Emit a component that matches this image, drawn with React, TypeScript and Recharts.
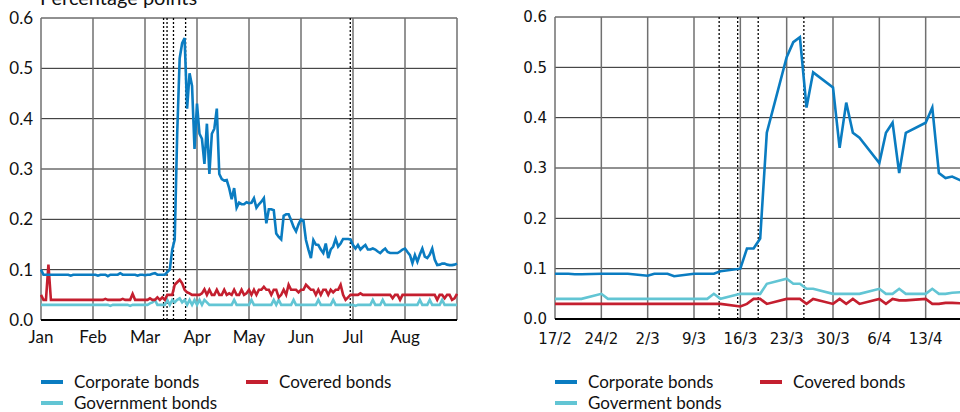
import React from 'react';
import { LineChart, Line, XAxis, YAxis, CartesianGrid, ReferenceLine } from 'recharts';

// left panel: business days, 21 per month, Jan to end of Aug
const monthLabels = ['Jan', 'Feb', 'Mar', 'Apr', 'May', 'Jun', 'Jul', 'Aug', ''];
const leftTicks = [0, 21, 42, 63, 84, 105, 126, 147, 168];
const yTicks = [0, 0.1, 0.2, 0.3, 0.4, 0.5, 0.6];

const corporateLeft = [
  0.10, 0.09, 0.09, 0.09, 0.09, 0.09, 0.09, 0.09, 0.09, 0.09, 0.09, 0.09, 0.088, 0.09, 0.09, 0.09, 0.09, 0.09, 0.09, 0.09, 0.09,
  0.09, 0.09, 0.088, 0.09, 0.09, 0.09, 0.087, 0.09, 0.09, 0.09, 0.09, 0.093, 0.09, 0.09, 0.09, 0.09, 0.09, 0.09, 0.088, 0.09, 0.09,
  0.089, 0.09, 0.09, 0.092, 0.093, 0.09, 0.09, 0.09, 0.09, 0.095, 0.10, 0.14, 0.16, 0.37, 0.52, 0.55, 0.56, 0.42, 0.49, 0.465, 0.34,
  0.43, 0.37, 0.36, 0.31, 0.39, 0.29, 0.37, 0.38, 0.42, 0.29, 0.28, 0.277, 0.278, 0.262, 0.24, 0.262, 0.223, 0.233, 0.23, 0.23, 0.234,
  0.232, 0.233, 0.242, 0.223, 0.23, 0.235, 0.242, 0.192, 0.22, 0.22, 0.218, 0.172, 0.165, 0.16, 0.207, 0.21, 0.21, 0.198, 0.185, 0.176, 0.19,
  0.2, 0.197, 0.159, 0.14, 0.123, 0.159, 0.15, 0.149, 0.14, 0.133, 0.152, 0.123, 0.14, 0.146, 0.161, 0.146, 0.152, 0.161, 0.161, 0.161, 0.16,
  0.149, 0.142, 0.149, 0.14, 0.145, 0.149, 0.14, 0.14, 0.142, 0.14, 0.136, 0.133, 0.138, 0.142, 0.135, 0.133, 0.133, 0.133, 0.133, 0.136, 0.14,
  0.142, 0.135, 0.129, 0.113, 0.129, 0.116, 0.13, 0.142, 0.126, 0.123, 0.13, 0.142, 0.12, 0.109, 0.11, 0.112, 0.112, 0.11, 0.109, 0.109, 0.11,
  0.112,
];
const coveredLeft = [
  0.05, 0.04, 0.04, 0.11, 0.04, 0.04, 0.04, 0.04, 0.04, 0.04, 0.04, 0.04, 0.04, 0.04, 0.04, 0.04, 0.04, 0.04, 0.04, 0.04, 0.04,
  0.04, 0.04, 0.04, 0.04, 0.04, 0.042, 0.04, 0.04, 0.04, 0.04, 0.04, 0.04, 0.042, 0.04, 0.04, 0.04, 0.052, 0.04, 0.04, 0.04, 0.04,
  0.04, 0.04, 0.043, 0.04, 0.04, 0.045, 0.04, 0.045, 0.04, 0.05, 0.05, 0.05, 0.07, 0.075, 0.08, 0.073, 0.06, 0.055, 0.053, 0.05, 0.05,
  0.05, 0.05, 0.053, 0.061, 0.05, 0.06, 0.05, 0.05, 0.06, 0.05, 0.05, 0.06, 0.05, 0.053, 0.05, 0.06, 0.05, 0.05, 0.06, 0.05, 0.053,
  0.06, 0.05, 0.06, 0.05, 0.06, 0.06, 0.066, 0.06, 0.06, 0.05, 0.06, 0.06, 0.045, 0.05, 0.06, 0.05, 0.07, 0.06, 0.06, 0.06, 0.055,
  0.06, 0.06, 0.07, 0.065, 0.06, 0.06, 0.05, 0.06, 0.05, 0.06, 0.06, 0.05, 0.06, 0.055, 0.06, 0.06, 0.07, 0.05, 0.04, 0.045, 0.05,
  0.05, 0.05, 0.05, 0.053, 0.05, 0.05, 0.05, 0.05, 0.05, 0.05, 0.05, 0.05, 0.05, 0.05, 0.05, 0.05, 0.043, 0.05, 0.05, 0.04, 0.05,
  0.05, 0.05, 0.05, 0.05, 0.05, 0.05, 0.05, 0.05, 0.05, 0.05, 0.05, 0.05, 0.05, 0.04, 0.05, 0.05, 0.043, 0.05, 0.05, 0.04, 0.043,
  0.052,
];
const governmentLeft = [
  0.03, 0.03, 0.03, 0.03, 0.03, 0.03, 0.03, 0.03, 0.03, 0.03, 0.03, 0.03, 0.03, 0.03, 0.03, 0.03, 0.03, 0.03, 0.03, 0.03, 0.03,
  0.03, 0.03, 0.03, 0.03, 0.03, 0.03, 0.03, 0.028, 0.03, 0.03, 0.03, 0.03, 0.03, 0.03, 0.03, 0.028, 0.03, 0.03, 0.03, 0.03, 0.03,
  0.03, 0.03, 0.033, 0.035, 0.04, 0.03, 0.03, 0.03, 0.03, 0.04, 0.03, 0.04, 0.035, 0.04, 0.043, 0.035, 0.04, 0.03, 0.04, 0.03, 0.04,
  0.03, 0.04, 0.03, 0.04, 0.035, 0.03, 0.03, 0.03, 0.03, 0.03, 0.03, 0.03, 0.03, 0.03, 0.03, 0.04, 0.03, 0.03, 0.03, 0.03, 0.03,
  0.03, 0.04, 0.03, 0.03, 0.03, 0.03, 0.03, 0.03, 0.03, 0.03, 0.04, 0.03, 0.04, 0.03, 0.03, 0.03, 0.03, 0.03, 0.04, 0.03, 0.03,
  0.03, 0.03, 0.03, 0.03, 0.03, 0.03, 0.03, 0.04, 0.03, 0.03, 0.03, 0.03, 0.03, 0.04, 0.03, 0.03, 0.03, 0.03, 0.03, 0.03, 0.03,
  0.03, 0.028, 0.03, 0.03, 0.03, 0.03, 0.03, 0.03, 0.04, 0.03, 0.03, 0.03, 0.04, 0.03, 0.03, 0.03, 0.03, 0.03, 0.03, 0.03, 0.03,
  0.03, 0.03, 0.03, 0.03, 0.03, 0.03, 0.04, 0.03, 0.03, 0.03, 0.04, 0.03, 0.03, 0.03, 0.03, 0.04, 0.03, 0.03, 0.03, 0.03, 0.03,
  0.03,
];
const leftEvents = [49.5, 50.9, 53.5, 58.4, 124.9];

// right panel: calendar days counted from 17/2
const rightDays = [0, 1, 2, 3, 4, 7, 8, 9, 10, 11, 14, 15, 16, 17, 18, 21, 22, 23, 24, 25, 28, 29, 30, 31, 32, 35, 36, 37, 38, 39, 42, 43, 44, 45, 46, 49, 50, 51, 52, 53, 56, 57, 58, 59, 60, 63];
const corporateRight = [
  0.09, 0.09, 0.09, 0.089, 0.089, 0.09, 0.09, 0.09, 0.09, 0.09, 0.086, 0.09, 0.09, 0.09, 0.085, 0.09, 0.09, 0.09, 0.09, 0.095,
  0.10, 0.14, 0.14, 0.16, 0.37, 0.52, 0.55, 0.56, 0.42, 0.49, 0.46, 0.34, 0.43, 0.37, 0.36, 0.31, 0.37, 0.39, 0.29, 0.37,
  0.39, 0.42, 0.29, 0.28, 0.283, 0.265,
];
const coveredRight = [
  0.03, 0.03, 0.03, 0.03, 0.03, 0.03, 0.03, 0.03, 0.03, 0.03, 0.03, 0.03, 0.03, 0.03, 0.03, 0.03, 0.03, 0.03, 0.03, 0.03,
  0.025, 0.03, 0.04, 0.04, 0.03, 0.04, 0.04, 0.04, 0.03, 0.04, 0.03, 0.04, 0.03, 0.04, 0.03, 0.04, 0.03, 0.04, 0.037, 0.037,
  0.04, 0.03, 0.03, 0.032, 0.032, 0.03,
];
const governmentRight = [
  0.04, 0.04, 0.04, 0.04, 0.04, 0.05, 0.04, 0.04, 0.04, 0.04, 0.04, 0.04, 0.04, 0.04, 0.04, 0.04, 0.04, 0.04, 0.05, 0.04,
  0.05, 0.05, 0.05, 0.05, 0.07, 0.08, 0.07, 0.07, 0.06, 0.06, 0.05, 0.05, 0.05, 0.05, 0.05, 0.06, 0.05, 0.05, 0.06, 0.05,
  0.05, 0.06, 0.05, 0.05, 0.052, 0.055,
];
const weekLabels = ['17/2', '24/2', '2/3', '9/3', '16/3', '23/3', '30/3', '6/4', '13/4', ''];
const rightTicks = [0, 7, 14, 21, 28, 35, 42, 49, 56, 63];
const rightEvents = [24.8, 27.6, 30.7, 37.6];

const BLUE = '#0a7cc1';
const RED = '#c41f2f';
const CYAN = '#62c5d4';

const leftData = corporateLeft.map((v, i) => ({
  x: i, corporate: v, covered: coveredLeft[i], government: governmentLeft[i],
}));
const rightData = rightDays.map((d, i) => ({
  x: d, corporate: corporateRight[i], covered: coveredRight[i], government: governmentRight[i],
}));

const LegendRow = ({ x, y, color, label }: { x: number; y: number; color: string; label: string }) => (
  <div style={{ position: 'absolute', left: x, top: y - 7, height: 14, display: 'flex', alignItems: 'center' }}>
    <div style={{ width: 22, height: 4, background: color }} />
    <span style={{ marginLeft: 11, fontFamily: 'Lato', fontSize: 17, lineHeight: '14px', color: '#111', whiteSpace: 'nowrap' }}>{label}</span>
  </div>
);

const series = (
  [
    ['government', CYAN],
    ['covered', RED],
    ['corporate', BLUE],
  ] as const
).map(([k, c]) => (
  <Line key={k} type="linear" dataKey={k} stroke={c} strokeWidth={2.6} dot={false} isAnimationActive={false} />
));

export default function App() {
  return (
    <div style={{ position: 'fixed', left: 0, top: 0, width: 960, height: 412, overflow: 'hidden', background: '#fff' }}>
      <svg style={{ position: 'absolute', left: 0, top: 0 }} width={300} height={20}>
        <text x={40} y={5} fontFamily="Lato" fontSize={20} fill="#111">Percentage points</text>
      </svg>

      <div style={{ position: 'absolute', left: 0, top: 0 }}>
        <LineChart width={470} height={350} data={leftData} margin={{ top: 18, right: 13, left: 0, bottom: 0 }}>
          <CartesianGrid vertical={false} stroke="#222" strokeWidth={1} />
          <CartesianGrid horizontal={false} stroke="#707070" strokeWidth={1.5} />
          <XAxis
            type="number" dataKey="x" domain={[0, 168]} ticks={leftTicks}
            tickFormatter={(v: number) => monthLabels[leftTicks.indexOf(v)]}
            tickLine={false} axisLine={{ stroke: '#000', strokeWidth: 2 }} tickMargin={5} height={30}
            tick={{ fontFamily: 'Lato', fontSize: 17, fill: '#111' }}
          />
          <YAxis
            type="number" domain={[0, 0.6]} ticks={yTicks} width={41}
            tickFormatter={(v: number) => v.toFixed(1)}
            tickLine={false} axisLine={false}
            tick={{ fontFamily: 'Lato', fontSize: 17, fill: '#111' }}
          />
          {leftEvents.map((e) => (
            <ReferenceLine key={e} x={e} stroke="#000" strokeWidth={1.3} strokeDasharray="2 2" />
          ))}
          {series}
        </LineChart>
      </div>

      <div style={{ position: 'absolute', left: 495, top: 0 }}>
        <LineChart width={487} height={350} data={rightData} margin={{ top: 17, right: 10, left: 0, bottom: 0 }}>
          <CartesianGrid vertical={false} stroke="#222" strokeWidth={1} />
          <CartesianGrid horizontal={false} stroke="#707070" strokeWidth={1.5} />
          <XAxis
            type="number" dataKey="x" domain={[0, 63]} ticks={rightTicks}
            tickFormatter={(v: number) => weekLabels[rightTicks.indexOf(v)]}
            tickLine={false} axisLine={{ stroke: '#000', strokeWidth: 2 }} tickMargin={8} height={31}
            tick={{ fontFamily: 'DejaVu Sans', fontSize: 15, fill: '#111' }}
          />
          <YAxis
            type="number" domain={[0, 0.6]} ticks={yTicks} width={60}
            tickFormatter={(v: number) => v.toFixed(1)}
            tickLine={false} axisLine={false}
            tick={{ fontFamily: 'DejaVu Sans', fontSize: 15, fill: '#111' }}
          />
          {rightEvents.map((e) => (
            <ReferenceLine key={e} x={e} stroke="#000" strokeWidth={1.3} strokeDasharray="2 2" />
          ))}
          {series}
        </LineChart>
      </div>

      <LegendRow x={41} y={382} color={BLUE} label="Corporate bonds" />
      <LegendRow x={246} y={382} color={RED} label="Covered bonds" />
      <LegendRow x={41} y={403} color={CYAN} label="Government bonds" />
      <LegendRow x={555} y={382} color={BLUE} label="Corporate bonds" />
      <LegendRow x={760} y={382} color={RED} label="Covered bonds" />
      <LegendRow x={555} y={403} color={CYAN} label="Goverment bonds" />
    </div>
  );
}
